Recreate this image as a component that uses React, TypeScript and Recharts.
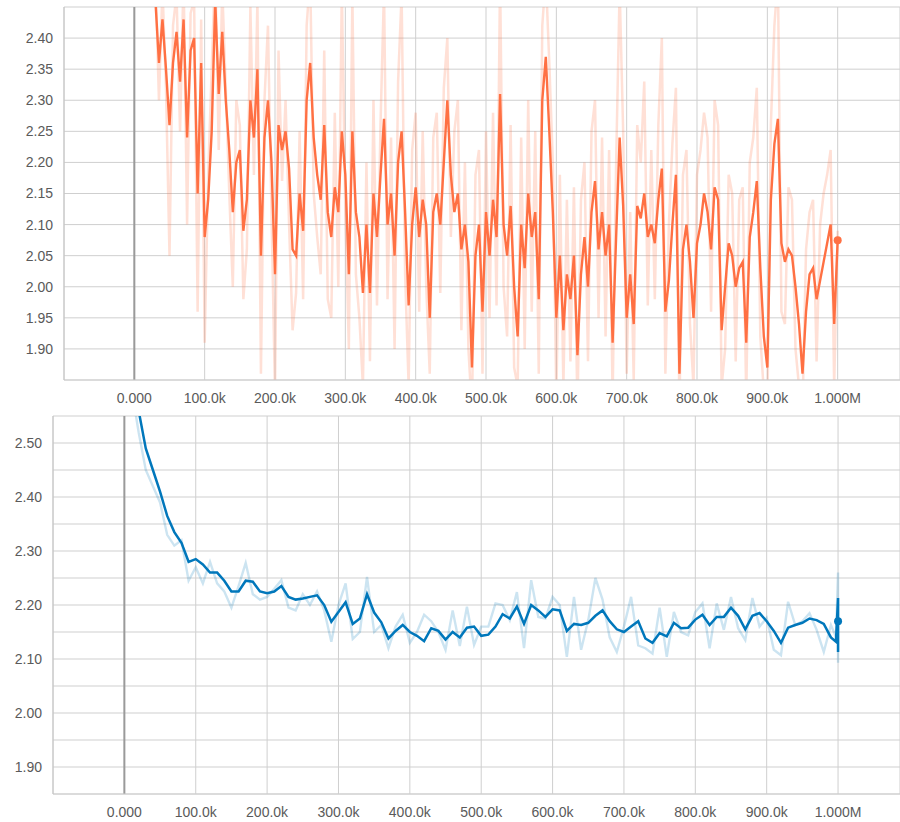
import { LineChart, Line, XAxis, YAxis, CartesianGrid, ReferenceLine, ReferenceDot } from 'recharts';

// top panel: orange run, one value every 5k steps from 30k to 1.000M
const orangeStart = 30000;
const orangeInterval = 5000;
const orangeSmooth = [
  2.46, 2.36, 2.43, 2.35, 2.26, 2.36, 2.41, 2.33, 2.43, 2.24,
  2.38, 2.40, 2.15, 2.36, 2.08, 2.14, 2.25, 2.46, 2.31, 2.41,
  2.30, 2.22, 2.12, 2.20, 2.22, 2.09, 2.14, 2.30, 2.24, 2.35,
  2.05, 2.24, 2.30, 2.20, 2.02, 2.26, 2.22, 2.25, 2.19, 2.06,
  2.05, 2.15, 2.09, 2.30, 2.36, 2.24, 2.18, 2.14, 2.26, 2.12,
  2.08, 2.16, 2.12, 2.25, 2.18, 2.02, 2.25, 2.12, 2.08, 1.99,
  2.10, 1.99, 2.15, 2.08, 2.18, 2.27, 2.10, 2.15, 2.05, 2.20,
  2.25, 2.12, 1.97, 2.10, 2.16, 2.08, 2.14, 2.10, 1.95, 2.12,
  2.15, 2.10, 2.20, 2.30, 2.18, 2.12, 2.15, 2.06, 2.10, 2.04,
  1.87, 2.05, 2.10, 1.96, 2.12, 2.05, 2.14, 2.08, 2.31, 2.10,
  2.05, 2.13, 2.00, 1.92, 2.10, 2.03, 2.15, 2.08, 2.12, 1.98,
  2.30, 2.37, 2.25, 2.12, 1.95, 2.05, 1.93, 2.02, 1.98, 2.05,
  1.89, 2.02, 2.08, 2.00, 2.12, 2.17, 2.06, 2.12, 2.05, 2.10,
  1.91, 2.08, 2.24, 2.13, 1.95, 2.02, 1.94, 2.13, 2.11, 2.15,
  2.08, 2.10, 2.07, 2.14, 2.19, 1.96, 2.01, 2.10, 2.18, 1.86,
  2.06, 2.10, 2.04, 1.95, 2.07, 2.10, 2.15, 2.12, 2.06, 2.16,
  2.14, 1.93, 2.00, 2.07, 2.05, 2.00, 2.03, 2.04, 1.91, 2.08,
  2.12, 2.17, 2.03, 1.92, 1.87, 2.14, 2.23, 2.27, 2.07, 2.04,
  2.06, 2.05, 2.00, 1.94, 1.86, 1.96, 2.02, 2.03, 1.98, 2.01,
  2.04, 2.07, 2.10, 1.94, 2.075,
];
const orangeRaw = [
  2.50, 2.30, 2.48, 2.32, 2.05, 2.42, 2.47, 2.25, 2.50, 2.10,
  2.44, 2.46, 1.96, 2.43, 1.91, 2.18, 2.35, 2.52, 2.22, 2.48,
  2.32, 2.15, 2.00, 2.30, 2.26, 1.98, 2.06, 2.45, 2.18, 2.46,
  1.86, 2.30, 2.42, 2.12, 1.83, 2.38, 2.17, 2.30, 2.10, 1.93,
  1.99, 2.25, 1.98, 2.42, 2.50, 2.15, 2.08, 2.02, 2.38, 1.98,
  1.95, 2.28, 2.00, 2.48, 2.12, 1.90, 2.47, 2.02, 1.95, 1.84,
  2.20, 1.88, 2.30, 1.97, 2.26, 2.48, 1.98, 2.24, 1.90, 2.33,
  2.47, 2.02, 1.84, 2.22, 2.28, 1.96, 2.25, 2.00, 1.86, 2.24,
  2.28, 1.99, 2.32, 2.40, 2.08, 2.25, 2.30, 1.93, 2.20, 1.90,
  1.80, 2.18, 2.22, 1.86, 2.25, 1.95, 2.28, 1.97, 2.50, 2.00,
  1.92, 2.26, 1.87, 1.84, 2.24, 1.90, 2.30, 1.96, 2.25, 1.86,
  2.42, 2.50, 2.36, 2.20, 1.82, 2.18, 1.84, 2.14, 1.88, 2.16,
  1.80, 2.14, 2.20, 1.88, 2.25, 2.30, 1.95, 2.24, 1.92, 2.22,
  1.82, 2.20, 2.48, 2.25, 1.86, 2.12, 1.85, 2.26, 2.20, 2.33,
  1.97, 2.22, 1.98, 2.26, 2.40, 1.86, 2.10, 2.23, 2.32, 1.80,
  2.18, 2.22, 1.94, 1.84, 2.18, 2.22, 2.28, 2.24, 1.96, 2.30,
  2.26, 1.84, 1.90, 2.18, 2.15, 1.88, 2.14, 2.16, 1.82, 2.20,
  2.24, 2.32, 1.92, 1.83, 1.80, 2.26, 2.42, 2.50, 1.96, 1.94,
  2.16, 2.14, 1.90, 1.84, 1.80, 2.06, 2.12, 2.14, 1.88, 2.10,
  2.15, 2.18, 2.22, 1.84, 2.09,
];

// bottom panel: blue run, every 10k steps, plus the last step which holds several values
const blueSmoothStart = 20000;
const blueRawStart = 10000;
const blueInterval = 10000;
const blueSmooth = [
  2.56, 2.49, 2.45, 2.41, 2.365, 2.335, 2.315, 2.28, 2.285, 2.275,
  2.26, 2.26, 2.245, 2.225, 2.225, 2.245, 2.243, 2.225, 2.222, 2.225,
  2.235, 2.215, 2.21, 2.212, 2.215, 2.218, 2.20, 2.169, 2.187, 2.205,
  2.165, 2.175, 2.22, 2.186, 2.168, 2.138, 2.152, 2.163, 2.15, 2.143,
  2.133, 2.157, 2.152, 2.136, 2.15, 2.14, 2.158, 2.16, 2.143, 2.145,
  2.16, 2.183, 2.175, 2.197, 2.165, 2.20, 2.19, 2.178, 2.192, 2.19,
  2.152, 2.165, 2.163, 2.167, 2.18, 2.19, 2.17, 2.155, 2.15, 2.16,
  2.17, 2.138, 2.13, 2.148, 2.142, 2.167, 2.157, 2.158, 2.173, 2.182,
  2.163, 2.178, 2.178, 2.195, 2.18, 2.155, 2.18, 2.185, 2.17, 2.152,
  2.13, 2.158, 2.163, 2.167, 2.175, 2.172, 2.165, 2.14,
];
const blueSmoothTailSteps = [997000, 1000000, 1000000, 1000000];
const blueSmoothTail = [2.132, 2.213, 2.113, 2.17];
const blueRaw = [
  2.60, 2.52, 2.45, 2.42, 2.39, 2.33, 2.31, 2.32, 2.245, 2.27,
  2.24, 2.28, 2.24, 2.225, 2.195, 2.235, 2.278, 2.22, 2.21, 2.215,
  2.23, 2.246, 2.195, 2.19, 2.22, 2.20, 2.225, 2.19, 2.132, 2.20,
  2.24, 2.137, 2.15, 2.252, 2.15, 2.163, 2.12, 2.16, 2.182, 2.13,
  2.15, 2.182, 2.17, 2.15, 2.117, 2.19, 2.124, 2.197, 2.126, 2.16,
  2.16, 2.203, 2.20, 2.172, 2.224, 2.12, 2.246, 2.178, 2.175, 2.215,
  2.20, 2.104, 2.215, 2.117, 2.172, 2.25, 2.21, 2.14, 2.113, 2.16,
  2.215, 2.125, 2.12, 2.11, 2.195, 2.104, 2.187, 2.15, 2.144, 2.187,
  2.203, 2.12, 2.203, 2.154, 2.215, 2.157, 2.135, 2.213, 2.16, 2.176,
  2.117, 2.107, 2.206, 2.163, 2.17, 2.185, 2.154, 2.113, 2.163,
];
const blueRawTailSteps = [997000, 1000000, 1000000];
const blueRawTail = [2.141, 2.26, 2.093];

const xTicks = [-100000, 0, 100000, 200000, 300000, 400000, 500000, 600000, 700000, 800000, 900000, 1000000];
const topYTicks = [1.85, 1.9, 1.95, 2.0, 2.05, 2.1, 2.15, 2.2, 2.25, 2.3, 2.35, 2.4, 2.45];
const bottomYTicks = [1.85, 1.9, 1.95, 2.0, 2.05, 2.1, 2.15, 2.2, 2.25, 2.3, 2.35, 2.4, 2.45, 2.5, 2.55];

const ORANGE = '#ff7043';
const BLUE = '#0077bb';
const GRID = '#cfcfcf';
const FONT = '"Liberation Sans", Arial, sans-serif';
const tickStyle = { fill: '#5a5a5a', fontSize: 14, fontFamily: FONT };

const toSeries = (start: number, interval: number, values: number[]) =>
  values.map((v, i) => ({ step: start + i * interval, value: v }));

const orangeSmoothData = toSeries(orangeStart, orangeInterval, orangeSmooth);
const orangeRawData = toSeries(orangeStart, orangeInterval, orangeRaw);
const blueSmoothData = toSeries(blueSmoothStart, blueInterval, blueSmooth).concat(
  blueSmoothTailSteps.map((s, i) => ({ step: s, value: blueSmoothTail[i] }))
);
const blueRawData = toSeries(blueRawStart, blueInterval, blueRaw).concat(
  blueRawTailSteps.map((s, i) => ({ step: s, value: blueRawTail[i] }))
);

const fmtStep = (v: number) => {
  if (v < 0) return '';
  if (v === 0) return '0.000';
  if (v >= 1000000) return `${(v / 1000000).toFixed(3)}M`;
  return `${(v / 1000).toFixed(1)}k`;
};

const fmtTopY = (v: number) =>
  Math.abs(v - 1.85) < 1e-6 || Math.abs(v - 2.45) < 1e-6 ? '' : v.toFixed(2);

const fmtBottomY = (v: number) => (Math.round(v * 100) % 10 === 0 ? v.toFixed(2) : '');

export default function App() {
  const orangeLast = orangeSmoothData[orangeSmoothData.length - 1];
  const blueLast = blueSmoothData[blueSmoothData.length - 1];

  return (
    <div style={{ position: 'absolute', left: 0, top: 0, width: 900, height: 822, background: '#fff', overflow: 'hidden' }}>
      <div style={{ position: 'absolute', left: 0, top: 0 }}>
        <LineChart width={900} height={410} margin={{ top: 7, right: 0, bottom: 0, left: 0 }}>
          <CartesianGrid stroke={GRID} />
          <XAxis
            type="number"
            dataKey="step"
            domain={[-100000, 1088600]}
            ticks={xTicks}
            interval={0}
            tickFormatter={fmtStep}
            height={30}
            tick={tickStyle}
            tickLine={false}
            tickMargin={7}
            axisLine={{ stroke: GRID }}
            allowDataOverflow
          />
          <YAxis
            type="number"
            domain={[1.85, 2.45]}
            ticks={topYTicks}
            interval={0}
            tickFormatter={fmtTopY}
            width={64}
            tick={tickStyle}
            tickLine={false}
            tickMargin={5}
            axisLine={{ stroke: '#c4c4c4' }}
            allowDataOverflow
          />
          <ReferenceLine x={0} stroke="#9a9a9a" strokeWidth={2} />
          <Line data={orangeRawData} dataKey="value" type="linear" stroke={ORANGE} strokeOpacity={0.22} strokeWidth={2.5} dot={false} activeDot={false} isAnimationActive={false} />
          <Line data={orangeSmoothData} dataKey="value" type="linear" stroke={ORANGE} strokeWidth={2.4} dot={false} activeDot={false} isAnimationActive={false} />
          <ReferenceDot x={orangeLast.step} y={orangeLast.value} r={4} fill={ORANGE} stroke="none" />
        </LineChart>
      </div>
      <div style={{ position: 'absolute', left: 0, top: 400 }}>
        <LineChart width={900} height={422} margin={{ top: 16, right: 0, bottom: 0, left: 0 }}>
          <CartesianGrid stroke={GRID} />
          <XAxis
            type="number"
            dataKey="step"
            domain={[-100000, 1086800]}
            ticks={xTicks}
            interval={0}
            tickFormatter={fmtStep}
            height={28}
            tick={tickStyle}
            tickLine={false}
            tickMargin={7}
            axisLine={{ stroke: GRID }}
            allowDataOverflow
          />
          <YAxis
            type="number"
            domain={[1.85, 2.55]}
            ticks={bottomYTicks}
            interval={0}
            tickFormatter={fmtBottomY}
            width={53}
            tick={tickStyle}
            tickLine={false}
            tickMargin={5}
            axisLine={{ stroke: '#c4c4c4' }}
            allowDataOverflow
          />
          <ReferenceLine x={0} stroke="#9a9a9a" strokeWidth={2} />
          <Line data={blueRawData} dataKey="value" type="linear" stroke={BLUE} strokeOpacity={0.2} strokeWidth={2.4} dot={false} activeDot={false} isAnimationActive={false} />
          <Line data={blueSmoothData} dataKey="value" type="linear" stroke={BLUE} strokeWidth={2.5} dot={false} activeDot={false} isAnimationActive={false} />
          <ReferenceDot x={blueLast.step} y={blueLast.value} r={4} fill={BLUE} stroke="none" />
        </LineChart>
      </div>
    </div>
  );
}
